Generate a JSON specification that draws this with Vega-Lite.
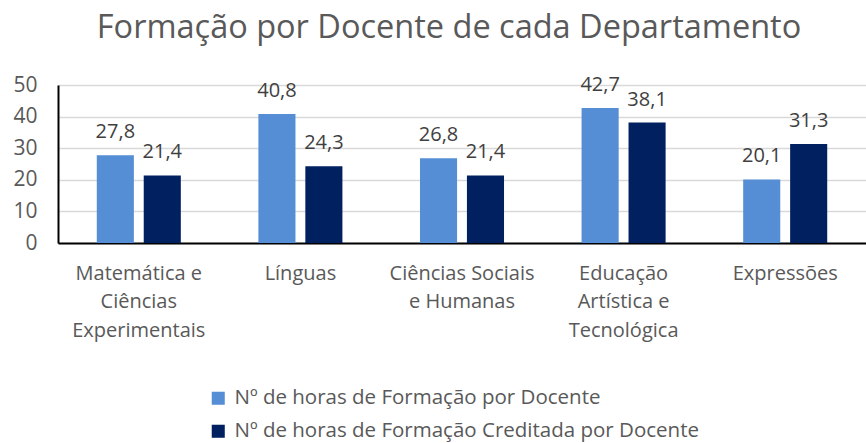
{
  "$schema": "https://vega.github.io/schema/vega-lite/v6.json",
  "width": 808,
  "height": 158,
  "autosize": "none",
  "padding": {"left": 58, "top": 85, "right": 0, "bottom": 200},
  "background": "white",
  "config": {
    "locale": {"number": {"decimal": ",", "thousands": ".", "grouping": [3], "currency": ["", " €"]}},
    "view": {"stroke": null},
    "font": "Open Sans"
  },
  "title": {
    "text": "Formação por Docente de cada Departamento",
    "fontSize": 32.5,
    "fontWeight": "normal",
    "color": "#595959",
    "font": "Open Sans",
    "anchor": "middle",
    "dx": -13,
    "offset": 30
  },
  "data": {
    "values": [
      {"dep": "Matemática e|Ciências|Experimentais", "serie": "Nº de horas de Formação por Docente", "s": 1, "v": 27.8},
      {"dep": "Matemática e|Ciências|Experimentais", "serie": "Nº de horas de Formação Creditada por Docente", "s": 2, "v": 21.4},
      {"dep": "Línguas", "serie": "Nº de horas de Formação por Docente", "s": 1, "v": 40.8},
      {"dep": "Línguas", "serie": "Nº de horas de Formação Creditada por Docente", "s": 2, "v": 24.3},
      {"dep": "Ciências Sociais|e Humanas", "serie": "Nº de horas de Formação por Docente", "s": 1, "v": 26.8},
      {"dep": "Ciências Sociais|e Humanas", "serie": "Nº de horas de Formação Creditada por Docente", "s": 2, "v": 21.4},
      {"dep": "Educação|Artística e|Tecnológica", "serie": "Nº de horas de Formação por Docente", "s": 1, "v": 42.7},
      {"dep": "Educação|Artística e|Tecnológica", "serie": "Nº de horas de Formação Creditada por Docente", "s": 2, "v": 38.1},
      {"dep": "Expressões", "serie": "Nº de horas de Formação por Docente", "s": 1, "v": 20.1},
      {"dep": "Expressões", "serie": "Nº de horas de Formação Creditada por Docente", "s": 2, "v": 31.3}
    ]
  },
  "encoding": {
    "x": {
      "field": "dep",
      "type": "nominal",
      "sort": ["Matemática e|Ciências|Experimentais", "Línguas", "Ciências Sociais|e Humanas", "Educação|Artística e|Tecnológica", "Expressões"],
      "scale": {"paddingInner": 0.48, "paddingOuter": 0.24},
      "axis": {
        "title": null,
        "labelExpr": "split(datum.label, '|')",
        "labelAngle": 0,
        "labelFontSize": 20,
        "labelColor": "#595959",
        "labelLineHeight": 28.5,
        "labelPadding": 20,
        "labelBaseline": "top",
        "ticks": false,
        "domainColor": "#000000",
        "domainWidth": 2,
        "labelFont": "Open Sans"
      }
    },
    "xOffset": {"field": "s", "type": "nominal", "scale": {"paddingInner": 0.21, "paddingOuter": 0}},
    "y": {
      "field": "v",
      "type": "quantitative",
      "scale": {"domain": [0, 50]},
      "axis": {
        "title": null,
        "values": [0, 10, 20, 30, 40, 50],
        "labelFontSize": 21,
        "labelColor": "#595959",
        "labelPadding": 21,
        "ticks": false,
        "gridColor": "#d9d9d9",
        "gridWidth": 1.5,
        "domainColor": "#000000",
        "domainWidth": 2,
        "labelFont": "Open Sans"
      }
    }
  },
  "layer": [
    {
      "mark": {"type": "bar"},
      "encoding": {
        "color": {
          "field": "serie",
          "type": "nominal",
          "sort": ["Nº de horas de Formação por Docente", "Nº de horas de Formação Creditada por Docente"],
          "scale": {
            "domain": ["Nº de horas de Formação por Docente", "Nº de horas de Formação Creditada por Docente"],
            "range": ["#558ed5", "#00205f"]
          },
          "legend": {
            "title": null,
            "orient": "none",
            "legendX": 150,
            "legendY": 303,
            "direction": "vertical",
            "symbolType": "square",
            "symbolSize": 170,
            "symbolStrokeWidth": 0,
            "labelFontSize": 20.5,
            "labelColor": "#595959",
            "rowPadding": 12,
            "labelOffset": 6,
            "labelFont": "Open Sans",
            "labelLimit": 700
          }
        }
      }
    },
    {
      "mark": {"type": "text", "fontSize": 20, "color": "#404040", "baseline": "alphabetic", "dy": -17, "font": "Open Sans"},
      "encoding": {
        "text": {"field": "v", "type": "quantitative", "format": ".1f"}
      }
    }
  ]
}
